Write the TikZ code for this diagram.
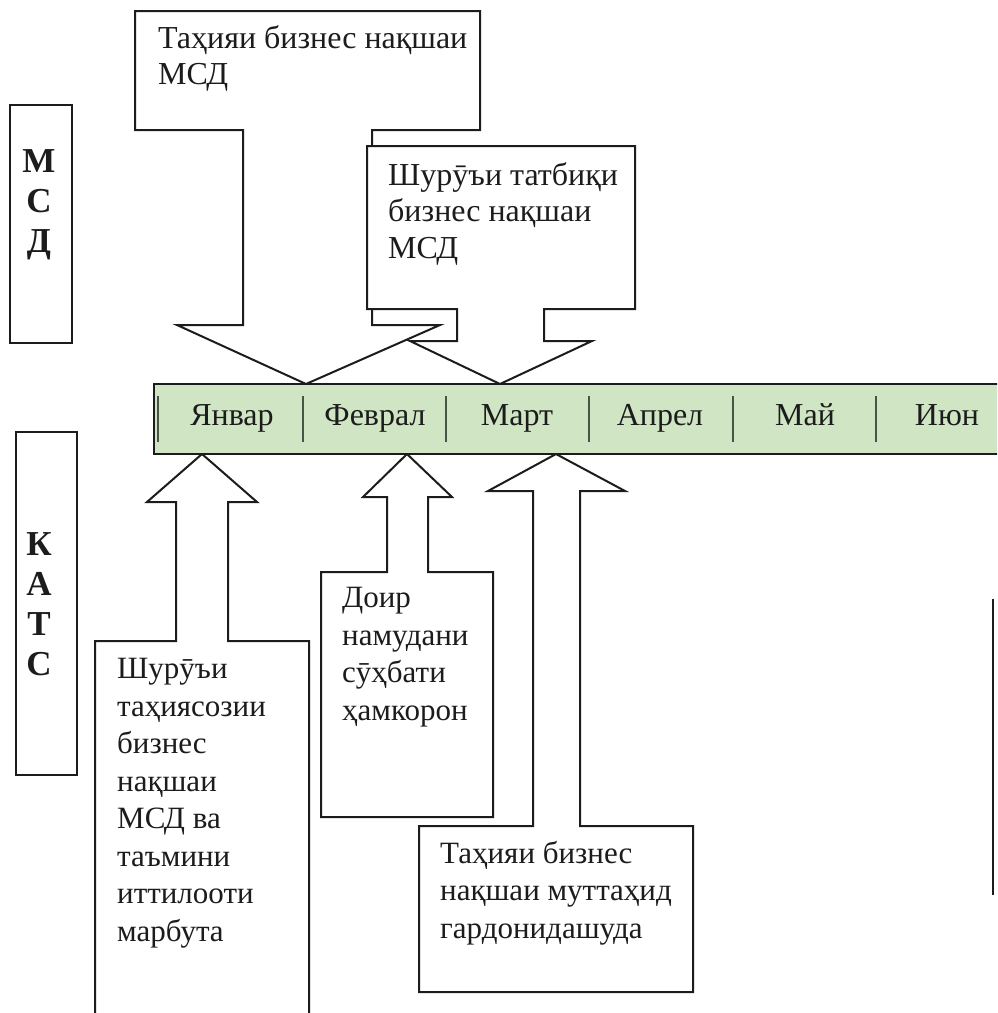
\documentclass[tikz,border=0pt]{standalone}
\usepackage{fontspec}
\setmainfont{Liberation Serif}
\definecolor{barfill}{RGB}{207,229,196}
\definecolor{ink}{RGB}{28,28,28}
\definecolor{tick}{RGB}{70,85,70}

\begin{document}
\begin{tikzpicture}[x=1pt,y=-1pt,
    every node/.style={inner sep=0pt,text=ink},
    outline/.style={draw=ink,line width=2pt,fill=white},
    boxtext/.style={anchor=base west,align=left,font=\fontsize{31}{37.5}\selectfont},
    monthlabel/.style={anchor=base,font=\fontsize{32}{36}\selectfont},
    sidelabel/.style={anchor=base,align=center,font=\fontsize{35}{40}\selectfont\bfseries}]
  \useasboundingbox (0,0) rectangle (997,1013);
  \clip (0,0) rectangle (997,1013);

  \draw[outline] (135,11) -- (480,11) -- (480,130) -- (372,130) -- (372,325) -- (440,325)
    -- (306,384) -- (177,325) -- (243,325) -- (243,130) -- (135,130) -- cycle;
  \node[boxtext,font=\fontsize{32}{35.5}\selectfont] (draft) at (158,84) {Таҳияи бизнес нақшаи\\МСД};

  \draw[outline] (367,146) -- (635,146) -- (635,309) -- (544,309) -- (544,341) -- (592,341)
    -- (500,384) -- (410,341) -- (457,341) -- (457,309) -- (367,309) -- cycle;
  \node[boxtext,font=\fontsize{32}{36.5}\selectfont] (launch) at (388,258) {Шурӯъи татбиқи\\бизнес нақшаи\\МСД};

  \draw[outline] (95,1020) -- (95,641) -- (176,641) -- (176,502) -- (147,502) -- (202,454)
    -- (257,502) -- (228,502) -- (228,641) -- (309,641) -- (309,1020);
  \node[boxtext] (prep) at (117,941) {Шурӯъи\\таҳиясозии\\бизнес\\нақшаи\\МСД ва\\таъмини\\иттилооти\\марбута};

  \draw[outline] (321,817) -- (321,572) -- (387,572) -- (387,497) -- (363,497) -- (407,454)
    -- (452,497) -- (428,497) -- (428,572) -- (493,572) -- (493,817) -- cycle;
  \node[boxtext] (talks) at (342,720) {Доир\\намудани\\сӯҳбати\\ҳамкорон};

  \draw[outline] (419,992) -- (419,826) -- (533,826) -- (533,491) -- (488,491) -- (556,454)
    -- (625,491) -- (580,491) -- (580,826) -- (693,826) -- (693,992) -- cycle;
  \node[boxtext] (merged) at (440,938) {Таҳияи бизнес\\нақшаи муттаҳид\\гардонидашуда};

  \draw[outline] (10,105) rectangle (72,343);
  \node[sidelabel] (msd) at (39,252) {М\\С\\Д};
  \draw[outline] (16,432) rectangle (77,775);
  \node[sidelabel] (kats) at (39,675) {К\\А\\Т\\С};

  \draw[draw=ink,line width=2pt] (993,599) -- (993,895);

  \fill[barfill] (154,384) rectangle (1000,454);
  \draw[draw=ink,line width=2pt] (1000,384) -- (154,384) -- (154,454) -- (1000,454);
  \foreach \x in {158,303,446,589,733,876}
    \draw[tick,line width=1.1pt] (\x,396) -- (\x,442);
  \foreach \x/\m [count=\i] in {232/Январ,375/Феврал,517/Март,660/Апрел,805/Май,947/Июн}
    \node[monthlabel] (m\i) at (\x,425) {\m};
\end{tikzpicture}
\end{document}
